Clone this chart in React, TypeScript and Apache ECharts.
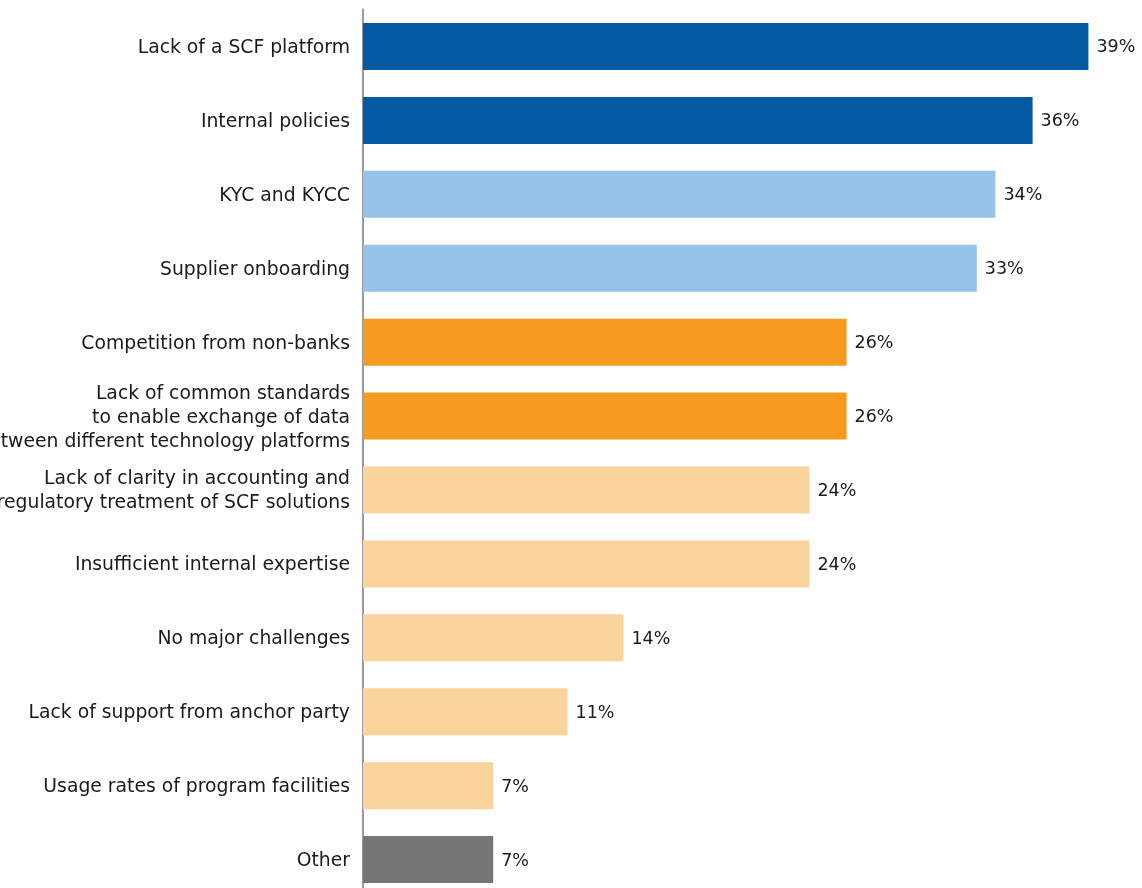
import React, { useEffect, useRef } from "react";
import * as echarts from "echarts";

const categories = [
  "Lack of a SCF platform",
  "Internal policies",
  "KYC and KYCC",
  "Supplier onboarding",
  "Competition from non-banks",
  "Lack of common standards\nto enable exchange of data\nbetween different technology platforms",
  "Lack of clarity in accounting and\nregulatory treatment of SCF solutions",
  "Insufficient internal expertise",
  "No major challenges",
  "Lack of support from anchor party",
  "Usage rates of program facilities",
  "Other",
];

const values = [39, 36, 34, 33, 26, 26, 24, 24, 14, 11, 7, 7];

const groups = ["top", "top", "high", "high", "mid", "mid", "low", "low", "low", "low", "low", "other"];

const groupColors: Record<string, string> = {
  top: "#0459A3",
  high: "#98C3E9",
  mid: "#F59B1F",
  low: "#FBD39D",
  other: "#767676",
};

export default function App() {
  const ref = useRef<HTMLDivElement>(null);
  useEffect(() => {
    if (!ref.current) return;
    const chart = echarts.init(ref.current, null, { renderer: "svg" });
    const font = "'DejaVu Sans', sans-serif";
    chart.setOption({
      animation: false,
      grid: {
        left: 363,
        top: 9.5,
        width: 744,
        height: 887,
        containLabel: false,
        outerBoundsMode: "none",
      },
      xAxis: {
        type: "value",
        min: 0,
        max: 40,
        show: false,
      },
      yAxis: {
        type: "category",
        data: categories,
        inverse: true,
        axisLine: { show: true, lineStyle: { color: "#9a9a9a", width: 2 } },
        axisTick: { show: false },
        axisLabel: {
          color: "#1a1a1a",
          fontSize: 18.8,
          fontFamily: font,
          margin: 13,
          lineHeight: 24,
          align: "right",
        },
      },
      series: [
        {
          type: "bar",
          barWidth: 47,
          data: values.map((v, i) => ({
            value: v,
            itemStyle: { color: groupColors[groups[i]] },
          })),
          label: {
            show: true,
            position: "right",
            distance: 8,
            formatter: "{c}%",
            color: "#1a1a1a",
            fontSize: 17.5,
            fontFamily: font,
          },
        },
      ],
    });
    return () => chart.dispose();
  }, []);
  return (
    <div style={{ position: "fixed", left: 0, top: 0, width: 1142, height: 888, overflow: "hidden" }}>
      <div ref={ref} style={{ width: 1142, height: 910 }} />
    </div>
  );
}
